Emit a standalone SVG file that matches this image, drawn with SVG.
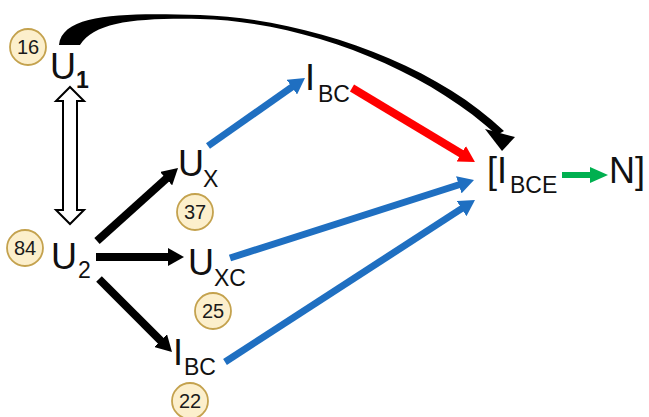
<svg xmlns="http://www.w3.org/2000/svg" width="649" height="417" viewBox="0 0 649 417">
<style>
.lbl{font-family:"Liberation Sans",Arial,sans-serif;font-size:36px;fill:#111}
.sub{font-family:"Liberation Sans",Arial,sans-serif;font-size:23px;fill:#111}
.num{font-family:"Liberation Sans",Arial,sans-serif;font-size:20px;fill:#1a1a1a;text-anchor:middle}
.badge{fill:#fcefcc;stroke:#c4a24e;stroke-width:1.8}
.blk{stroke:#000;stroke-width:8;fill:none}
.blu{stroke:#1f6fc1;stroke-width:7;fill:none}
</style>
<defs>
<marker id="hb" markerUnits="userSpaceOnUse" markerWidth="16" markerHeight="18" refX="6" refY="9" orient="auto"><path d="M0,0 L16,9 L0,18 Z" fill="#000"/></marker>
<marker id="hu" markerUnits="userSpaceOnUse" markerWidth="16" markerHeight="18" refX="6" refY="9" orient="auto"><path d="M0,0 L16,9 L0,18 Z" fill="#1f6fc1"/></marker>
<marker id="hr" markerUnits="userSpaceOnUse" markerWidth="16" markerHeight="18" refX="6" refY="9" orient="auto"><path d="M0,0 L16,9 L0,18 Z" fill="#ff0000"/></marker>
<marker id="hg" markerUnits="userSpaceOnUse" markerWidth="18" markerHeight="18" refX="8" refY="9" orient="auto"><path d="M0,1 L18,9 L0,17 Z" fill="#00b050"/></marker>
</defs>

<g id="connectors">
<path d="M59,45 C62,12 130,13 200,15 C300,18 430,60 504,131 L497,135 C422,66 300,21 200,19 C135,18 95,22 80,45 Z" fill="#000"/>
<polygon points="485,129 515,137 502,151" fill="#000"/>
<polygon points="70,87 84,101 77,101 77,210 84,210 70,224 56,210 63,210 63,101 56,101" fill="#fff" stroke="#000" stroke-width="2" stroke-linejoin="miter"/>
<line class="blk" x1="97" y1="241" x2="170.6" y2="174.7" marker-end="url(#hb)"/>
<line class="blk" x1="96" y1="257" x2="174" y2="257" marker-end="url(#hb)"/>
<line class="blk" x1="99" y1="279" x2="164.9" y2="344.9" marker-end="url(#hb)"/>
<line class="blu" x1="208" y1="146" x2="296.8" y2="83.7" marker-end="url(#hu)"/>
<line class="blu" x1="230" y1="258" x2="464.5" y2="183" marker-end="url(#hu)"/>
<line class="blu" x1="225" y1="362" x2="466.6" y2="205.4" marker-end="url(#hu)"/>
<line x1="352" y1="88" x2="466.4" y2="156.8" stroke="#ff0000" stroke-width="8" marker-end="url(#hr)"/>
<line x1="562" y1="175" x2="598" y2="175" stroke="#00b050" stroke-width="6" marker-end="url(#hg)"/>
</g>

<g id="U1">
<circle class="badge" cx="28" cy="47" r="18"/><text class="num" x="28" y="54">16</text>
<text class="lbl" x="50" y="79">U</text><text class="sub" x="76" y="88" font-weight="bold">1</text>
</g>
<g id="U2">
<circle class="badge" cx="25" cy="248" r="18"/><text class="num" x="25" y="255">84</text>
<text class="lbl" x="51" y="269">U</text><text class="sub" x="78" y="278">2</text>
</g>
<g id="UX">
<circle class="badge" cx="195" cy="212" r="18"/><text class="num" x="195" y="219">37</text>
<text class="lbl" x="178" y="176">U</text><text class="sub" x="203" y="187">X</text>
</g>
<g id="UXC">
<circle class="badge" cx="213" cy="311" r="18"/><text class="num" x="213" y="318">25</text>
<text class="lbl" x="188" y="275">U</text><text class="sub" x="214" y="286">XC</text>
</g>
<g id="IBC_low">
<circle class="badge" cx="190" cy="401" r="18"/><text class="num" x="190" y="408">22</text>
<text class="lbl" x="173" y="365">I</text><text class="sub" x="184" y="375">BC</text>
</g>
<g id="IBC_up">
<text class="lbl" x="305" y="90">I</text><text class="sub" x="318" y="102">BC</text>
</g>
<g id="IBCE">
<text class="lbl" x="487" y="183">[I</text><text class="sub" x="510" y="193">BCE</text>
</g>
<g id="N">
<text class="lbl" x="609" y="183">N]</text>
</g>
</svg>
